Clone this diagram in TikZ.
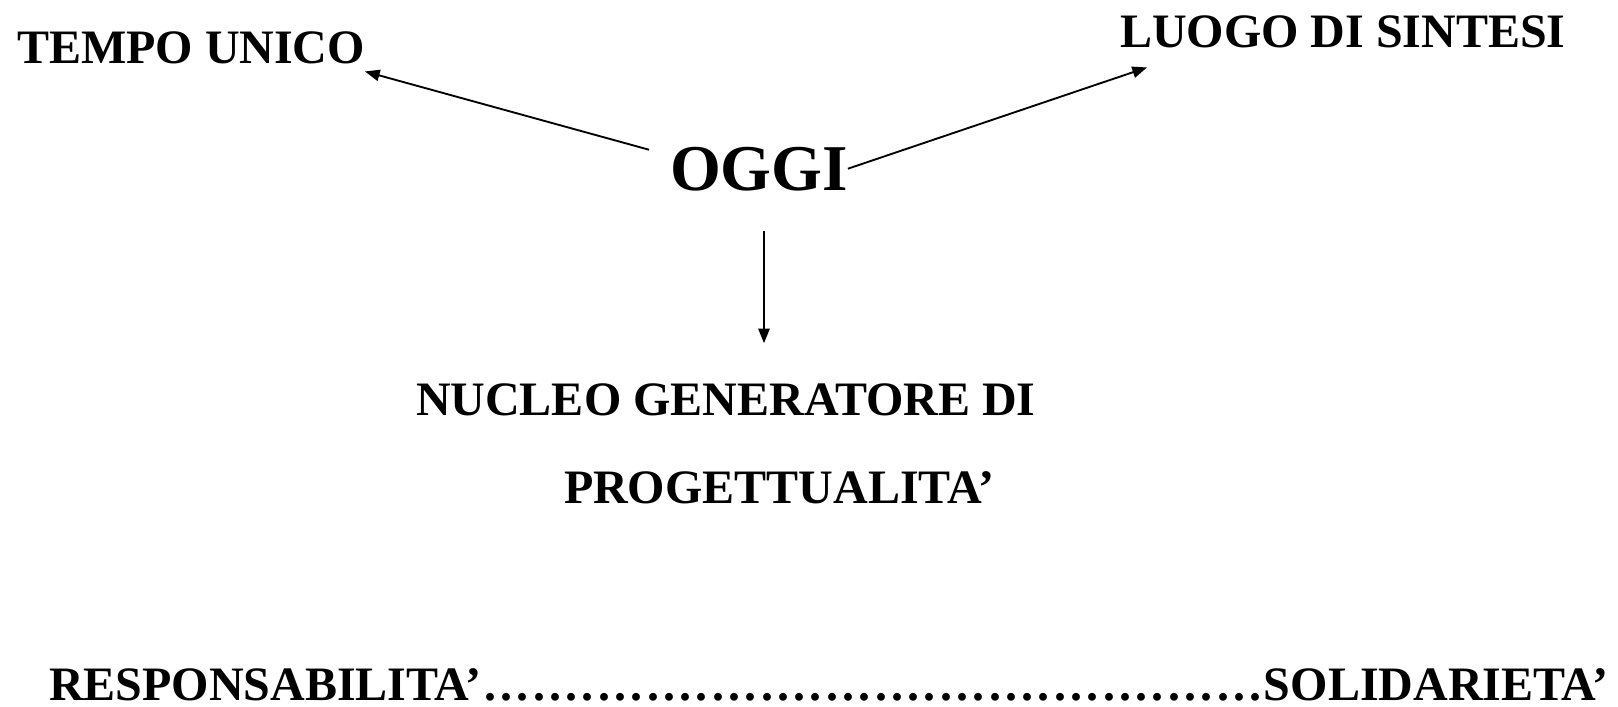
\documentclass[tikz,border=0pt]{standalone}
\usepackage{fontspec}
\setmainfont{Liberation Serif}
\usetikzlibrary{arrows.meta,calc}
\begin{document}
\begin{tikzpicture}[x=0.75pt,y=-0.75pt,inner sep=0pt,outer sep=0pt,
txt/.style={anchor=base west,font=\bfseries\fontsize{36}{43}\selectfont},
arr/.style={-{Triangle[length=11pt,width=8.5pt]},line width=1.4pt}]
\useasboundingbox (0,0) rectangle (1618,707);
\node[txt] (tempo) at (17,63) {TEMPO UNICO};
\node[txt] (luogo) at (1120,47) {LUOGO DI SINTESI};
\node[txt,anchor=base,font=\bfseries\fontsize{49}{58}\selectfont] (oggi) at (759,190) {OGGI};
\node[txt] (nucleo) at (416,415) {NUCLEO GENERATORE DI};
\node[txt] (prog) at (564,503) {PROGETTUALITA’};
\node[txt] (resp) at (49,700) {\hbox to 1170pt{RESPONSABILITA’\xleaders\hbox to .333em{\hss.\hss}\hfill SOLIDARIETA’}};
% arrows out of OGGI
\draw[arr] ($(oggi.north west)+(-21,3)$) -- ($(tempo.south east)+(0,8)$);
\draw[arr] (oggi.east) -- ($(luogo.south west)+(27,20)$);
\draw[arr] ($(oggi.south)+(5,40)$) -- ($(nucleo.north -| oggi.south)+(5,-40)$);
\end{tikzpicture}
\end{document}
